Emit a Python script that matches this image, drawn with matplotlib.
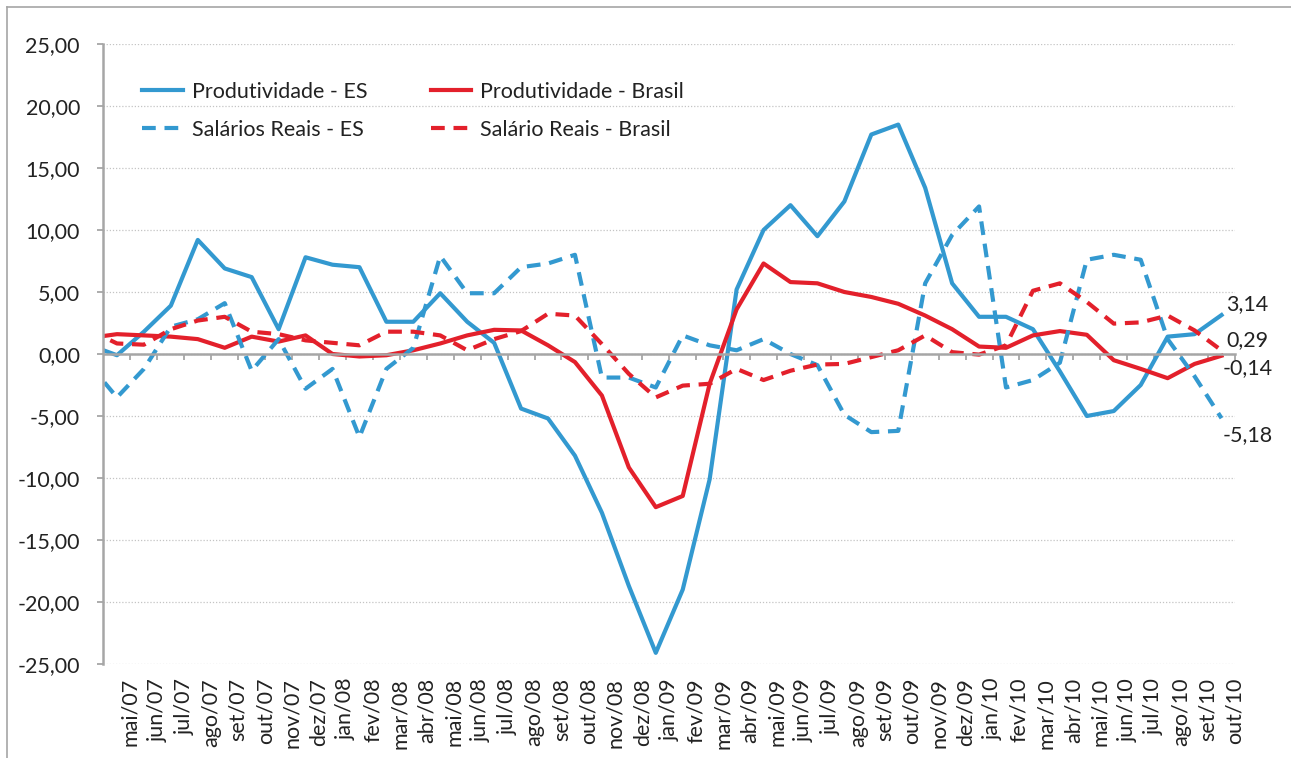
import matplotlib
matplotlib.use('Agg')
import matplotlib.pyplot as plt
from matplotlib.lines import Line2D
import numpy as np

plt.rcParams['font.family'] = ['Lato', 'DejaVu Sans']

# meses da serie; o primeiro (abr/07) fica fora do eixo, so aparece o pedaco da linha
meses = ['abr/07', 'mai/07', 'jun/07', 'jul/07', 'ago/07', 'set/07', 'out/07', 'nov/07', 'dez/07',
         'jan/08', 'fev/08', 'mar/08', 'abr/08', 'mai/08', 'jun/08', 'jul/08', 'ago/08', 'set/08',
         'out/08', 'nov/08', 'dez/08', 'jan/09', 'fev/09', 'mar/09', 'abr/09', 'mai/09', 'jun/09',
         'jul/09', 'ago/09', 'set/09', 'out/09', 'nov/09', 'dez/09', 'jan/10', 'fev/10', 'mar/10',
         'abr/10', 'mai/10', 'jun/10', 'jul/10', 'ago/10', 'set/10', 'out/10']

prod_es = [0.7, -0.1, 1.8, 3.9, 9.2, 6.9, 6.2, 2.0, 7.8, 7.2, 7.0, 2.6, 2.6, 4.9, 2.6, 0.9,
           -4.4, -5.2, -8.2, -12.8, -18.7, -24.1, -19.0, -10.1, 5.2, 10.0, 12.0, 9.5, 12.3,
           17.7, 18.5, 13.4, 5.7, 3.0, 3.0, 2.0, -1.4, -5.0, -4.6, -2.5, 1.4, 1.6, 3.14]
sal_es = [-0.9, -3.5, -1.2, 2.2, 2.8, 4.1, -1.35, 1.2, -2.8, -1.2, -6.7, -1.2, 0.5, 7.9, 4.9,
          4.9, 7.0, 7.3, 8.0, -1.9, -1.9, -2.7, 1.5, 0.7, 0.3, 1.2, 0.0, -0.9, -4.9, -6.3,
          -6.2, 5.7, 9.6, 11.9, -2.7, -2.1, -0.7, 7.6, 8.0, 7.6, 1.2, -1.8, -5.18]
prod_br = [1.3, 1.6, 1.5, 1.4, 1.2, 0.5, 1.4, 1.0, 1.5, 0.0, -0.2, -0.1, 0.3, 0.85, 1.5, 1.95,
           1.9, 0.7, -0.65, -3.35, -9.15, -12.35, -11.45, -2.4, 3.6, 7.3, 5.8, 5.7, 5.0, 4.6,
           4.05, 3.1, 2.0, 0.6, 0.5, 1.5, 1.85, 1.55, -0.5, -1.2, -1.95, -0.8, -0.14]
sal_br = [1.9, 0.85, 0.75, 2.0, 2.7, 3.0, 1.8, 1.6, 1.1, 0.9, 0.7, 1.8, 1.8, 1.5, 0.3, 1.2,
          1.85, 3.25, 3.1, 0.8, -1.6, -3.5, -2.55, -2.4, -1.2, -2.1, -1.35, -0.85, -0.8, -0.25,
          0.3, 1.5, 0.15, -0.05, 0.7, 5.1, 5.7, 4.2, 2.45, 2.55, 3.1, 1.9, 0.29]

azul = '#3399D0'
vermelho = '#E3202B'
cinza = '#A6A6A6'
texto = '#222222'
fs = 15.5

x = np.arange(len(meses))

fig = plt.figure(figsize=(12.91, 7.58), dpi=100)
ax = fig.add_axes([103.5 / 1291, 1 - 664 / 758, (1235 - 103.5) / 1291, (664 - 44) / 758])

tracejado = (0, (3.3, 2.1))
l1, = ax.plot(x, prod_es, color=azul, lw=3, label='Produtividade - ES')
l2, = ax.plot(x, prod_br, color=vermelho, lw=3, label='Produtividade - Brasil')
l3, = ax.plot(x, sal_es, color=azul, lw=3, ls=tracejado, label='Salários Reais - ES')
l4, = ax.plot(x, sal_br, color=vermelho, lw=3, ls=tracejado, label='Salário Reais - Brasil')

ax.set_xlim(0.5, len(meses) - 0.5)
ax.set_ylim(-25, 25)

# eixo y
yticks = np.arange(-25, 26, 5)
ax.set_yticks(yticks, [f'{v:.2f}'.replace('.', ',') for v in yticks])
ax.tick_params(axis='y', length=4, width=1.3, color=cinza, pad=13, labelsize=fs, labelcolor=texto)
ax.yaxis.grid(True, color='#C4C4C4', ls=(0, (1, 1.5)), lw=0.9)
ax.set_axisbelow(True)
for s in ['top', 'right']:
    ax.spines[s].set_visible(False)
ax.spines['left'].set_color(cinza)
ax.spines['left'].set_linewidth(1.8)

# eixo x passando no zero, com marcas entre os meses
ax.spines['bottom'].set_position(('data', 0))
ax.spines['bottom'].set_color(cinza)
ax.spines['bottom'].set_linewidth(1.8)
ax.set_xticks(x[1:] + 0.5)
ax.tick_params(axis='x', length=4, width=1.3, color=cinza, direction='out', labelbottom=False)

# rotulos dos meses embaixo
sec = ax.secondary_xaxis('bottom')
sec.set_xticks(x[1:] + 0.5, meses[1:], rotation=90)
sec.tick_params(length=0, pad=10, labelsize=fs, labelcolor=texto)
sec.spines['bottom'].set_visible(False)

# valores finais
desloc = {'prod_es': (3.6, 7.9), 'sal_br': (3.6, 7.2), 'prod_br': (0.7, -8.6), 'sal_es': (0.7, -12.2)}
for nome, serie in [('prod_es', prod_es), ('sal_br', sal_br), ('prod_br', prod_br), ('sal_es', sal_es)]:
    ax.annotate(f'{serie[-1]:.2f}'.replace('.', ','), xy=(x[-1], serie[-1]), xytext=desloc[nome],
                textcoords='offset points', ha='left', va='center', fontsize=fs, color=texto,
                annotation_clip=False)

leg = ax.legend(handles=[l1, l3, l2, l4], ncol=2, frameon=False, fontsize=fs,
                loc='upper left', bbox_to_anchor=(142 / 1291, 1 - 82 / 758),
                bbox_transform=fig.transFigure, borderpad=0, borderaxespad=0,
                handlelength=1.9, handletextpad=0.4, columnspacing=2.95, labelspacing=0.83)
for t in leg.get_texts():
    t.set_color(texto)

# moldura do grafico
fig.add_artist(Line2D([7 / 1291, 1], [1 - 7 / 758, 1 - 7 / 758], transform=fig.transFigure, color=cinza, lw=1.2))
fig.add_artist(Line2D([7 / 1291, 7 / 1291], [0, 1 - 7 / 758], transform=fig.transFigure, color=cinza, lw=1.2))

fig.savefig('out.png', dpi=100)
